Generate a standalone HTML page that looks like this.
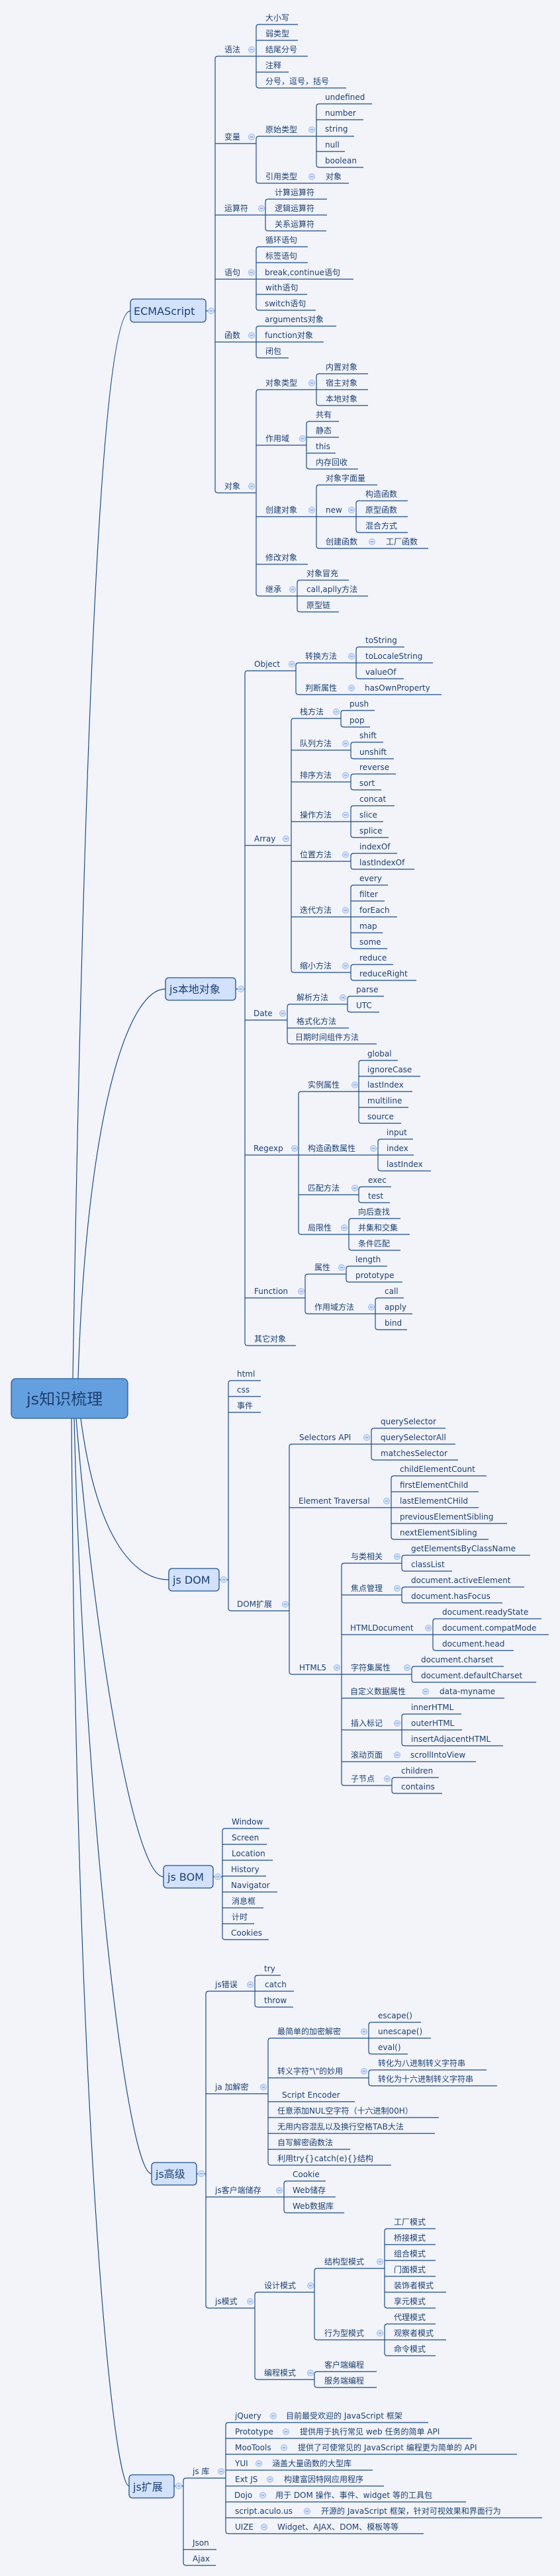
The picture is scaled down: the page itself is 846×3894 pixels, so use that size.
<!DOCTYPE html>
<html><head><meta charset="utf-8">
<style>
html,body{margin:0;padding:0;background:#f2f4fa;}
svg{display:block;}
text{font-family:"DejaVu Sans","Noto Sans CJK SC",sans-serif;font-size:12px;fill:#1e3f70;}
.m{font-size:16px;}
.r{font-size:24px;}
</style></head><body>
<svg width="846" height="3894" viewBox="0 0 846 3894" xmlns="http://www.w3.org/2000/svg">
<defs>
<g id="ic"><circle r="4.5" fill="#d3e2fb" stroke="#9fbbe6" stroke-width="1"/><path d="M-2.3,0H2.3" stroke="#6f8fc4" stroke-width="1"/></g>
</defs>
<rect width="846" height="3894" fill="#f2f4fa"/>
<g fill="none" stroke="#1d4b86" stroke-width="1.2">
<!-- root curves -->
<path d="M110,2084 C125,1200 150,470 197,470"/>
<path d="M118,2084 C130,1700 190,1495 250,1495"/>
<path d="M122,2144 C145,2320 200,2388 255,2388"/>
<path d="M115,2144 C140,2450 200,2837 247,2837"/>
<path d="M112,2144 C125,2700 190,3286 229,3286"/>
<path d="M108,2144 C115,3200 170,3758 195,3758"/>
<!-- ECMAScript -->
<path d="M311,470H325 M387,85H329Q325,85 325,89V741Q325,745 329,745H387 M325,217H387 M325,325H401 M325,422H387 M325,517H387"/>
<path d="M450,37H391Q387,37 387,41V129Q387,133 391,133H523 M387,61H450 M387,85H465 M387,109H436"/>
<path d="M478,206H391Q387,206 387,210V273Q387,277 391,277H527"/>
<path d="M562,157H482Q478,157 478,161V249Q478,253 482,253H549 M478,181H549 M478,206H535 M478,229H521"/>
<path d="M494,301H405Q401,301 401,305V345Q401,349 405,349H493 M401,325H494"/>
<path d="M465,373H391Q387,373 387,377V465Q387,469 391,469H477 M387,397H465 M387,422H534 M387,445H464"/>
<path d="M508,493H391Q387,493 387,497V537Q387,541 391,541H436 M387,517H489"/>
<path d="M478,589H391Q387,589 387,593V897Q387,901 391,901H449 M387,673H463 M387,781H478 M387,853H465"/>
<path d="M556,565H482Q478,565 478,569V609Q478,613 482,613H556 M478,589H556"/>
<path d="M512,637H467Q463,637 463,641V705Q463,709 467,709H541 M463,661H512 M463,685H507"/>
<path d="M570,733H482Q478,733 478,737V825Q478,829 482,829H647 M478,781H538"/>
<path d="M616,757H542Q538,757 538,761V801Q538,805 542,805H616 M538,781H616"/>
<path d="M527,877H453Q449,877 449,881V921Q449,925 453,925H512 M449,901H556"/>
<!-- js本地对象 -->
<path d="M356,1495H370 M447,1014H374Q370,1014 370,1018V2030Q370,2034 374,2034H447 M370,1278H440 M370,1542H434 M370,1746H451 M370,1962H461"/>
<path d="M538,1002H451Q447,1002 447,1006V1046Q447,1050 451,1050H667"/>
<path d="M611,978H542Q538,978 538,982V1022Q538,1026 542,1026H610 M538,1002H654"/>
<path d="M515,1086H444Q440,1086 440,1090V1466Q440,1470 444,1470H530 M440,1134H530 M440,1182H530 M440,1242H530 M440,1302H530 M440,1386H530"/>
<path d="M566,1074H519Q515,1074 515,1078V1095Q515,1099 519,1099H559"/>
<path d="M579,1122H534Q530,1122 530,1126V1143Q530,1147 534,1147H595"/>
<path d="M598,1170H534Q530,1170 530,1174V1190Q530,1194 534,1194H576"/>
<path d="M596,1218H534Q530,1218 530,1222V1262Q530,1266 534,1266H587 M530,1242H579"/>
<path d="M600,1290H534Q530,1290 530,1294V1310Q530,1314 534,1314H626"/>
<path d="M586,1338H534Q530,1338 530,1342V1430Q530,1434 534,1434H585 M530,1362H581 M530,1386H600 M530,1410H578"/>
<path d="M594,1458H534Q530,1458 530,1462V1478Q530,1482 534,1482H629"/>
<path d="M525,1518H438Q434,1518 434,1522V1574Q434,1578 438,1578H569 M434,1554H527"/>
<path d="M580,1506H529Q525,1506 525,1510V1526Q525,1530 529,1530H573"/>
<path d="M542,1650H455Q451,1650 451,1654V1862Q451,1866 455,1866H527 M451,1746H571 M451,1806H542"/>
<path d="M601,1603H546Q542,1603 542,1607V1694Q542,1698 546,1698H606 M542,1627H635 M542,1650H623 M542,1674H617"/>
<path d="M624,1722H575Q571,1722 571,1726V1766Q571,1770 575,1770H651 M571,1746H625"/>
<path d="M591,1794H546Q542,1794 542,1798V1814Q542,1818 546,1818H589"/>
<path d="M605,1842H531Q527,1842 527,1846V1886Q527,1890 531,1890H605 M527,1866H619"/>
<path d="M523,1926H465Q461,1926 461,1930V1982Q461,1986 465,1986H567"/>
<path d="M585,1914H527Q523,1914 523,1918V1934Q523,1938 527,1938H608"/>
<path d="M610,1962H571Q567,1962 567,1966V2006Q567,2010 571,2010H615 M567,1986H623"/>
<!-- js DOM -->
<path d="M331,2388H345 M394,2087H349Q345,2087 345,2091V2431Q345,2435 349,2435H437 M345,2111H394 M345,2135H394"/>
<path d="M561,2183H441Q437,2183 437,2187V2527Q437,2531 441,2531H516 M437,2279H591"/>
<path d="M673,2159H565Q561,2159 561,2163V2203Q561,2207 565,2207H692 M561,2183H688"/>
<path d="M735,2231H595Q591,2231 591,2235V2323Q591,2327 595,2327H738 M591,2255H723 M591,2279H723 M591,2303H766"/>
<path d="M607,2363H520Q516,2363 516,2367V2695Q516,2699 520,2699H592 M516,2411H607 M516,2471H654 M516,2531H622 M516,2567H762 M516,2615H607 M516,2663H719"/>
<path d="M801,2351H611Q607,2351 607,2355V2371Q607,2375 611,2375H683"/>
<path d="M792,2399H611Q607,2399 607,2403V2419Q607,2423 611,2423H759"/>
<path d="M818,2447H658Q654,2447 654,2451V2491Q654,2495 658,2495H776 M654,2471H829"/>
<path d="M761,2519H626Q622,2519 622,2523V2539Q622,2543 626,2543H810"/>
<path d="M697,2591H611Q607,2591 607,2595V2635Q607,2639 611,2639H760 M607,2615H698"/>
<path d="M663,2687H596Q592,2687 592,2691V2707Q592,2711 596,2711H668"/>
<!-- js BOM -->
<path d="M322,2837H336 M407,2764H340Q336,2764 336,2768V2928Q336,2932 340,2932H406 M336,2788H403 M336,2812H412 M336,2836H402 M336,2860H419 M336,2884H398 M336,2908H384"/>
<!-- js高级 -->
<path d="M297,3286H311 M385,3010H315Q311,3010 311,3014V3485Q311,3489 315,3489H385 M311,3165H405 M311,3321H429"/>
<path d="M424,2986H389Q385,2986 385,2990V3030Q385,3034 389,3034H443 M385,3010H444"/>
<path d="M557,3081H409Q405,3081 405,3085V3269Q405,3273 409,3273H591 M405,3141H557 M405,3177H536 M405,3201H663 M405,3225H657 M405,3249H529"/>
<path d="M636,3057H561Q557,3057 557,3061V3101Q557,3105 561,3105H616 M557,3081H651"/>
<path d="M735,3129H561Q557,3129 557,3133V3149Q557,3153 561,3153H751"/>
<path d="M492,3297H433Q429,3297 429,3301V3341Q429,3345 433,3345H520 M429,3321H507"/>
<path d="M475,3465H389Q385,3465 385,3469V3593Q385,3597 389,3597H475"/>
<path d="M581,3429H479Q475,3429 475,3433V3533Q475,3537 479,3537H581"/>
<path d="M658,3369H585Q581,3369 581,3373V3485Q581,3489 585,3489H658 M581,3393H658 M581,3417H658 M581,3441H658 M581,3465H674"/>
<path d="M658,3513H585Q581,3513 581,3517V3557Q581,3561 585,3561H658 M581,3537H674"/>
<path d="M569,3585H479Q475,3585 475,3589V3605Q475,3609 479,3609H569"/>
<!-- js扩展 -->
<path d="M263,3758H277 M341,3746H281Q277,3746 277,3750V3874Q277,3878 281,3878H326 M277,3854H327"/>
<path d="M647,3662H345Q341,3662 341,3666V3826Q341,3830 345,3830H640 M341,3686H713 M341,3710H781 M341,3734H563 M341,3758H580 M341,3782H704 M341,3806H819"/>
</g>
<!-- boxes -->
<rect x="17" y="2084" width="176" height="60" rx="7" fill="#64a0e0" stroke="#2a5a98" stroke-width="1.3"/>
<text class="r" x="40" y="2123">js知识梳理</text>
<g fill="#d2e2fc" stroke="#234f8c" stroke-width="1.3">
<rect x="197" y="452" width="114" height="35" rx="5"/>
<rect x="250" y="1478" width="106" height="34" rx="5"/>
<rect x="255" y="2371" width="76" height="34" rx="5"/>
<rect x="247" y="2820" width="75" height="34" rx="5"/>
<rect x="229" y="3269" width="68" height="34" rx="5"/>
<rect x="195" y="3741" width="68" height="35" rx="5"/>
</g>
<text class="m" x="202" y="476">ECMAScript</text>
<text class="m" x="256" y="1501">js本地对象</text>
<text class="m" x="261" y="2394">js DOM</text>
<text class="m" x="253" y="2843">js BOM</text>
<text class="m" x="235" y="3292">js高级</text>
<text class="m" x="201" y="3765">js扩展</text>
<!-- icons -->
<g>
<use href="#ic" x="319" y="470"/><use href="#ic" x="380" y="75"/><use href="#ic" x="380" y="207"/><use href="#ic" x="471" y="196"/><use href="#ic" x="471" y="267"/><use href="#ic" x="395" y="315"/><use href="#ic" x="380" y="412"/><use href="#ic" x="380" y="507"/><use href="#ic" x="380" y="735"/><use href="#ic" x="471" y="579"/><use href="#ic" x="457" y="663"/><use href="#ic" x="471" y="771"/><use href="#ic" x="531" y="771"/><use href="#ic" x="562" y="819"/><use href="#ic" x="442" y="891"/>
<use href="#ic" x="364" y="1495"/><use href="#ic" x="441" y="1004"/><use href="#ic" x="531" y="992"/><use href="#ic" x="531" y="1040"/><use href="#ic" x="432" y="1268"/><use href="#ic" x="508" y="1076"/><use href="#ic" x="522" y="1124"/><use href="#ic" x="522" y="1172"/><use href="#ic" x="522" y="1232"/><use href="#ic" x="522" y="1292"/><use href="#ic" x="522" y="1376"/><use href="#ic" x="522" y="1460"/><use href="#ic" x="427" y="1532"/><use href="#ic" x="518" y="1508"/><use href="#ic" x="445" y="1736"/><use href="#ic" x="536" y="1640"/><use href="#ic" x="564" y="1736"/><use href="#ic" x="536" y="1796"/><use href="#ic" x="520" y="1856"/><use href="#ic" x="455" y="1952"/><use href="#ic" x="516" y="1916"/><use href="#ic" x="561" y="1976"/>
<use href="#ic" x="338" y="2388"/><use href="#ic" x="431" y="2425"/><use href="#ic" x="554" y="2173"/><use href="#ic" x="584" y="2269"/><use href="#ic" x="509" y="2521"/><use href="#ic" x="600" y="2353"/><use href="#ic" x="600" y="2401"/><use href="#ic" x="647" y="2461"/><use href="#ic" x="615" y="2521"/><use href="#ic" x="643" y="2557"/><use href="#ic" x="600" y="2605"/><use href="#ic" x="600" y="2653"/><use href="#ic" x="585" y="2689"/>
<use href="#ic" x="329" y="2837"/>
<use href="#ic" x="304" y="3286"/><use href="#ic" x="378" y="3000"/><use href="#ic" x="398" y="3155"/><use href="#ic" x="550" y="3071"/><use href="#ic" x="550" y="3131"/><use href="#ic" x="422" y="3311"/><use href="#ic" x="378" y="3479"/><use href="#ic" x="469" y="3455"/><use href="#ic" x="574" y="3419"/><use href="#ic" x="574" y="3527"/><use href="#ic" x="469" y="3587"/>
<use href="#ic" x="270" y="3758"/><use href="#ic" x="334" y="3736"/><use href="#ic" x="413" y="3652"/><use href="#ic" x="432" y="3676"/><use href="#ic" x="429" y="3700"/><use href="#ic" x="391" y="3724"/><use href="#ic" x="408" y="3748"/><use href="#ic" x="397" y="3772"/><use href="#ic" x="464" y="3796"/><use href="#ic" x="399" y="3820"/>
</g>
<!-- ECMAScript texts -->
<text x="339" y="79">语法</text>
<text x="401" y="31">大小写</text><text x="401" y="55">弱类型</text><text x="401" y="79">结尾分号</text><text x="401" y="103">注释</text><text x="401" y="127">分号，逗号，括号</text>
<text x="339" y="211">变量</text>
<text x="401" y="200">原始类型</text>
<text x="491" y="151">undefined</text><text x="491" y="175">number</text><text x="491" y="199">string</text><text x="491" y="223">null</text><text x="491" y="247">boolean</text>
<text x="401" y="271">引用类型</text><text x="492" y="271">对象</text>
<text x="339" y="319">运算符</text>
<text x="415" y="295">计算运算符</text><text x="415" y="319">逻辑运算符</text><text x="415" y="343">关系运算符</text>
<text x="339" y="416">语句</text>
<text x="401" y="367">循环语句</text><text x="401" y="391">标签语句</text><text x="400" y="416">break,continue语句</text><text x="401" y="439">with语句</text><text x="400" y="463">switch语句</text>
<text x="339" y="511">函数</text>
<text x="400" y="487">arguments对象</text><text x="400" y="511">function对象</text><text x="401" y="535">闭包</text>
<text x="339" y="739">对象</text>
<text x="401" y="583">对象类型</text>
<text x="492" y="559">内置对象</text><text x="492" y="583">宿主对象</text><text x="492" y="607">本地对象</text>
<text x="401" y="667">作用域</text>
<text x="477" y="631">共有</text><text x="477" y="655">静态</text><text x="477" y="679">this</text><text x="477" y="703">内存回收</text>
<text x="401" y="775">创建对象</text>
<text x="492" y="727">对象字面量</text>
<text x="492" y="775">new</text>
<text x="552" y="751">构造函数</text><text x="552" y="775">原型函数</text><text x="552" y="799">混合方式</text>
<text x="492" y="823">创建函数</text><text x="583" y="823">工厂函数</text>
<text x="401" y="847">修改对象</text>
<text x="401" y="895">继承</text>
<text x="463" y="871">对象冒充</text><text x="463" y="895">call,aplly方法</text><text x="463" y="919">原型链</text>
<!-- 本地对象 texts -->
<text x="384" y="1008">Object</text>
<text x="461" y="996">转换方法</text>
<text x="552" y="972">toString</text><text x="552" y="996">toLocaleString</text><text x="552" y="1020">valueOf</text>
<text x="461" y="1044">判断属性</text><text x="551" y="1044">hasOwnProperty</text>
<text x="384" y="1272">Array</text>
<text x="453" y="1080">栈方法</text><text x="528" y="1068">push</text><text x="528" y="1093">pop</text>
<text x="453" y="1128">队列方法</text><text x="543" y="1116">shift</text><text x="543" y="1141">unshift</text>
<text x="453" y="1176">排序方法</text><text x="543" y="1164">reverse</text><text x="543" y="1188">sort</text>
<text x="453" y="1236">操作方法</text><text x="543" y="1212">concat</text><text x="543" y="1236">slice</text><text x="543" y="1260">splice</text>
<text x="453" y="1296">位置方法</text><text x="543" y="1284">indexOf</text><text x="543" y="1308">lastIndexOf</text>
<text x="453" y="1380">迭代方法</text><text x="543" y="1332">every</text><text x="543" y="1356">filter</text><text x="543" y="1380">forEach</text><text x="543" y="1404">map</text><text x="543" y="1428">some</text>
<text x="453" y="1464">缩小方法</text><text x="543" y="1452">reduce</text><text x="543" y="1476">reduceRight</text>
<text x="383" y="1536">Date</text>
<text x="448" y="1512">解析方法</text><text x="538" y="1500">parse</text><text x="538" y="1524">UTC</text>
<text x="448" y="1548">格式化方法</text><text x="446" y="1572">日期时间组件方法</text>
<text x="383" y="1740">Regexp</text>
<text x="465" y="1644">实例属性</text>
<text x="555" y="1597">global</text><text x="555" y="1621">ignoreCase</text><text x="555" y="1644">lastIndex</text><text x="555" y="1668">multiline</text><text x="555" y="1692">source</text>
<text x="465" y="1740">构造函数属性</text>
<text x="584" y="1716">input</text><text x="584" y="1740">index</text><text x="584" y="1764">lastIndex</text>
<text x="465" y="1800">匹配方法</text><text x="556" y="1788">exec</text><text x="556" y="1812">test</text>
<text x="465" y="1860">局限性</text><text x="541" y="1836">向后查找</text><text x="541" y="1860">并集和交集</text><text x="541" y="1884">条件匹配</text>
<text x="384" y="1956">Function</text>
<text x="475" y="1920">属性</text><text x="537" y="1908">length</text><text x="537" y="1932">prototype</text>
<text x="475" y="1980">作用域方法</text><text x="581" y="1956">call</text><text x="581" y="1980">apply</text><text x="581" y="2004">bind</text>
<text x="384" y="2028">其它对象</text>
<!-- DOM texts -->
<text x="358" y="2081">html</text><text x="358" y="2105">css</text><text x="358" y="2129">事件</text>
<text x="358" y="2429">DOM扩展</text>
<text x="452" y="2177">Selectors API</text>
<text x="575" y="2153">querySelector</text><text x="575" y="2177">querySelectorAll</text><text x="575" y="2201">matchesSelector</text>
<text x="451" y="2273">Element Traversal</text>
<text x="604" y="2225">childElementCount</text><text x="604" y="2249">firstElementChild</text><text x="604" y="2273">lastElementCHild</text><text x="604" y="2297">previousElementSibling</text><text x="604" y="2321">nextElementSibling</text>
<text x="452" y="2525">HTML5</text>
<text x="530" y="2357">与类相关</text><text x="621" y="2345">getElementsByClassName</text><text x="621" y="2369">classList</text>
<text x="530" y="2405">焦点管理</text><text x="621" y="2393">document.activeElement</text><text x="621" y="2417">document.hasFocus</text>
<text x="529" y="2465">HTMLDocument</text><text x="668" y="2441">document.readyState</text><text x="668" y="2465">document.compatMode</text><text x="668" y="2489">document.head</text>
<text x="530" y="2525">字符集属性</text><text x="636" y="2513">document.charset</text><text x="636" y="2537">document.defaultCharset</text>
<text x="529" y="2561">自定义数据属性</text><text x="664" y="2561">data-myname</text>
<text x="530" y="2609">插入标记</text><text x="621" y="2585">innerHTML</text><text x="621" y="2609">outerHTML</text><text x="621" y="2633">insertAdjacentHTML</text>
<text x="530" y="2657">滚动页面</text><text x="620" y="2657">scrollIntoView</text>
<text x="530" y="2693">子节点</text><text x="606" y="2681">children</text><text x="606" y="2705">contains</text>
<!-- BOM -->
<text x="350" y="2758">Window</text><text x="350" y="2782">Screen</text><text x="350" y="2806">Location</text><text x="349" y="2830">History</text><text x="349" y="2854">Navigator</text><text x="350" y="2878">消息框</text><text x="350" y="2902">计时</text><text x="349" y="2926">Cookies</text>
<!-- 高级 -->
<text x="325" y="3004">js错误</text><text x="399" y="2980">try</text><text x="400" y="3004">catch</text><text x="399" y="3028">throw</text>
<text x="325" y="3159">ja 加解密</text>
<text x="419" y="3075">最简单的加密解密</text><text x="571" y="3051">escape()</text><text x="571" y="3075">unescape()</text><text x="571" y="3099">eval()</text>
<text x="419" y="3135">转义字符"\"的妙用</text><text x="571" y="3123">转化为八进制转义字符串</text><text x="571" y="3147">转化为十六进制转义字符串</text>
<text x="426" y="3171">Script Encoder</text>
<text x="419" y="3195">任意添加NUL空字符（十六进制00H）</text>
<text x="419" y="3219">无用内容混乱以及换行空格TAB大法</text>
<text x="419" y="3243">自写解密函数法</text>
<text x="419" y="3267">利用try{}catch(e){}结构</text>
<text x="325" y="3315">js客户端储存</text><text x="442" y="3291">Cookie</text><text x="442" y="3315">Web储存</text><text x="442" y="3339">Web数据库</text>
<text x="325" y="3483">js模式</text>
<text x="399" y="3459">设计模式</text>
<text x="490" y="3423">结构型模式</text>
<text x="595" y="3363">工厂模式</text><text x="595" y="3387">桥接模式</text><text x="595" y="3411">组合模式</text><text x="595" y="3435">门面模式</text><text x="595" y="3459">装饰者模式</text><text x="595" y="3483">享元模式</text>
<text x="490" y="3531">行为型模式</text>
<text x="595" y="3507">代理模式</text><text x="595" y="3531">观察者模式</text><text x="595" y="3555">命令模式</text>
<text x="399" y="3591">编程模式</text><text x="490" y="3579">客户端编程</text><text x="490" y="3603">服务端编程</text>
<!-- 扩展 -->
<text x="291" y="3740">js 库</text>
<text x="355" y="3656">jQuery</text><text x="432" y="3656">目前最受欢迎的 JavaScript 框架</text>
<text x="355" y="3680">Prototype</text><text x="453" y="3680">提供用于执行常见 web 任务的简单 API</text>
<text x="355" y="3704">MooTools</text><text x="450" y="3704">提供了可使常见的 JavaScript 编程更为简单的 API</text>
<text x="355" y="3728">YUI</text><text x="411" y="3728">涵盖大量函数的大型库</text>
<text x="355" y="3752">Ext JS</text><text x="429" y="3752">构建富因特网应用程序</text>
<text x="354" y="3776">Dojo</text><text x="416" y="3776">用于 DOM 操作、事件、widget 等的工具包</text>
<text x="355" y="3800">script.aculo.us</text><text x="485" y="3800">开源的 JavaScript 框架，针对可视效果和界面行为</text>
<text x="355" y="3824">UIZE</text><text x="419" y="3824">Widget、AJAX、DOM、模板等等</text>
<text x="291" y="3848">Json</text><text x="291" y="3872">Ajax</text>
</svg>
</body></html>
